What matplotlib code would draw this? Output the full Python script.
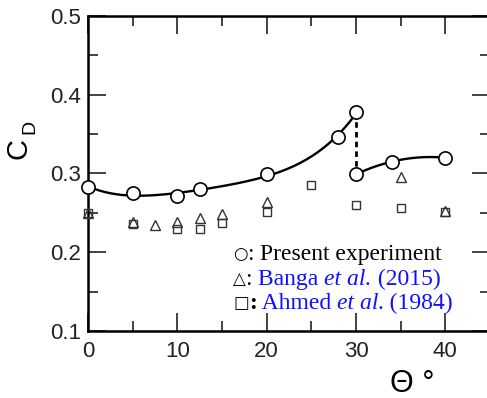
import numpy as np
import matplotlib
matplotlib.use("Agg")
import matplotlib.pyplot as plt
from matplotlib.ticker import MultipleLocator

plt.rcParams["font.family"] = ["Liberation Sans", "DejaVu Sans"]

# present experiment, two branches at theta = 30
theta_low  = [0, 5, 10, 12.5, 20, 28, 30]
cd_low     = [0.283, 0.275, 0.271, 0.280, 0.299, 0.346, 0.378]
theta_high = [30, 34, 40]
cd_high    = [0.299, 0.315, 0.320]

# Banga et al. (2015)
theta_banga = [0, 5, 7.5, 10, 12.5, 15, 20, 35, 40]
cd_banga    = [0.250, 0.239, 0.235, 0.238, 0.243, 0.249, 0.264, 0.296, 0.253]

# Ahmed et al. (1984)
theta_ahmed = [0, 5, 10, 12.5, 15, 20, 25, 30, 35, 40]
cd_ahmed    = [0.250, 0.236, 0.229, 0.230, 0.237, 0.2515, 0.286, 0.260, 0.256, 0.251]

BLUE = "#1010ff"
SERIF = ["Liberation Serif", "DejaVu Sans"]

fig = plt.figure(figsize=(4.87, 3.98), dpi=100)
ax = fig.add_axes([88/487, 67/398, 402/487, 315/398])
ax.set_xlim(0, 45)
ax.set_ylim(0.1, 0.5)

# fitted curves
p1 = np.polyfit(theta_low, cd_low, 4)
xs = np.linspace(theta_low[0], theta_low[-1], 200)
ax.plot(xs, np.polyval(p1, xs), color="black", lw=1.7, zorder=2)
p2 = np.polyfit(theta_high, cd_high, 2)
xs2 = np.linspace(theta_high[0], theta_high[-1], 100)
ax.plot(xs2, np.polyval(p2, xs2), color="black", lw=1.7, zorder=2)
ax.plot([theta_low[-1], theta_high[0]], [cd_low[-1], cd_high[0]],
        color="black", lw=2, ls=(0, (2, 1.5)), zorder=2)

ax.plot(theta_ahmed, cd_ahmed, ls="none", marker="s", ms=5.5, mfc="none",
        mec="#333333", mew=1.0, zorder=3, clip_on=False)
ax.plot(theta_banga, cd_banga, ls="none", marker="^", ms=6.5, mfc="none",
        mec="#333333", mew=1.0, zorder=3, clip_on=False)
ax.plot(theta_low + theta_high, cd_low + cd_high, ls="none", marker="o",
        ms=9.5, mfc="white", mec="black", mew=1.2, zorder=4, clip_on=False)

ax.xaxis.set_major_locator(MultipleLocator(10))
ax.xaxis.set_minor_locator(MultipleLocator(5))
ax.yaxis.set_major_locator(MultipleLocator(0.1))
ax.yaxis.set_minor_locator(MultipleLocator(0.05))
ax.set_xticks([0, 10, 20, 30, 40])
ax.tick_params(which="both", direction="in", top=True, right=True, width=1.2,
               color="#222222")
ax.tick_params(which="major", length=13, labelsize=16, labelcolor="#222222")
ax.tick_params(which="minor", length=7)
ax.tick_params(axis="x", pad=7)
ax.tick_params(axis="y", pad=5)
for s in ax.spines.values():
    s.set_linewidth(1.8)

# axis labels
fig.text(18/487, 1 - 148/398, "C", rotation=90, fontsize=21,
         ha="center", va="center")
fig.text(30/487, 1 - 127/398, "D", rotation=90, fontsize=14,
         ha="center", va="center")
fig.text(412/487, 1 - 384/398, "Θ °", fontsize=22, ha="center", va="center")

# legend text
rows = [
    ("○", ": ", [("Present experiment", "normal", "black")]),
    ("△", ": ", [("Banga ", "normal", BLUE), ("et al.", "italic", BLUE),
                 (" (2015)", "normal", BLUE)]),
    ("□", ":", [(" Ahmed ", "normal", BLUE), ("et al", "italic", BLUE),
                (". (1984)", "normal", BLUE)]),
]
y_rows = [0.225, 0.146, 0.070]
for (sym, colon, parts), yr in zip(rows, y_rows):
    prev = ax.text(0.361, yr + 0.004, sym, transform=ax.transAxes, fontsize=12,
                   family="DejaVu Sans", va="baseline", ha="left")
    prev = ax.annotate(colon, xy=(1, yr), xycoords=(prev, ax.transAxes),
                       fontsize=17, family=SERIF,
                       fontweight="bold" if sym == "□" else "normal",
                       va="baseline", ha="left")
    for txt, style, col in parts:
        prev = ax.annotate(txt, xy=(1, yr), xycoords=(prev, ax.transAxes),
                           fontsize=17, family=SERIF, style=style, color=col,
                           va="baseline", ha="left")

fig.savefig("out.png", dpi=100)
